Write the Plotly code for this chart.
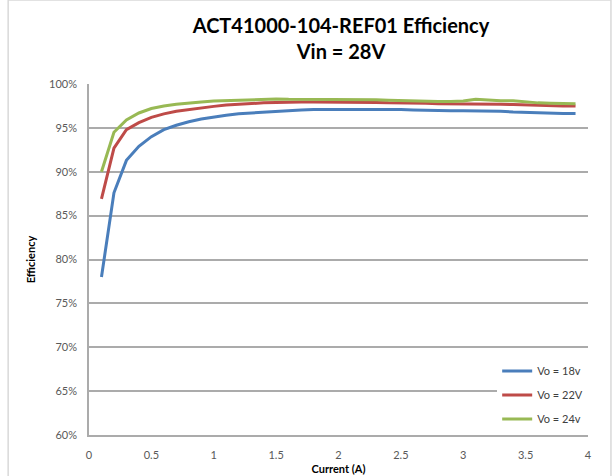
import plotly.graph_objects as go

current = [round(0.1 * i, 1) for i in range(1, 40)]

eff_18v = [78.0, 87.6, 91.3, 92.9, 94.0, 94.8, 95.3, 95.7, 96.0, 96.25,
           96.45, 96.6, 96.7, 96.8, 96.9, 97.0, 97.05, 97.1, 97.1, 97.15,
           97.1, 97.1, 97.1, 97.1, 97.1, 97.05, 97.0, 97.0, 96.95, 96.95,
           96.95, 96.95, 96.9, 96.8, 96.75, 96.7, 96.7, 96.65, 96.65]

eff_22v = [86.9, 92.7, 94.8, 95.6, 96.2, 96.6, 96.9, 97.1, 97.3, 97.45,
           97.6, 97.7, 97.8, 97.85, 97.9, 97.95, 97.95, 97.95, 97.95, 97.95,
           97.95, 97.9, 97.9, 97.85, 97.85, 97.8, 97.8, 97.75, 97.75, 97.75,
           97.7, 97.7, 97.7, 97.65, 97.6, 97.6, 97.55, 97.5, 97.5]

eff_24v = [90.0, 94.5, 95.9, 96.7, 97.2, 97.5, 97.7, 97.85, 97.95, 98.05,
           98.1, 98.15, 98.2, 98.2, 98.3, 98.25, 98.25, 98.25, 98.25, 98.25,
           98.2, 98.2, 98.2, 98.15, 98.1, 98.05, 98.05, 98.0, 98.0, 98.05,
           98.25, 98.15, 98.1, 98.1, 97.95, 97.85, 97.8, 97.75, 97.75]

series_names = ["Vo = 18v", "Vo = 22V", "Vo = 24v"]
series_values = [eff_18v, eff_22v, eff_24v]
series_colors = ["#4A7EBB", "#BE4B48", "#98B954"]

y_ticks = [60, 65, 70, 75, 80, 85, 90, 95, 100]
y_tick_labels = [f"{t}%" for t in y_ticks]
x_ticks = [0, 0.5, 1, 1.5, 2, 2.5, 3, 3.5, 4]

FONT = "Lato, Carlito, Calibri, 'Open Sans', sans-serif"
GRID = "#ABABAB"

fig = go.Figure()
for name, vals, col in zip(series_names, series_values, series_colors):
    fig.add_trace(go.Scatter(
        x=current, y=vals, mode="lines", name=name, legendgroup=name,
        line=dict(color=col, width=3),
    ))

fig.update_layout(
    width=612, height=476,
    margin=dict(l=89, r=24, t=84, b=41),
    paper_bgcolor="white", plot_bgcolor="white",
    font=dict(family=FONT, size=11, color="#404040"),
    title=dict(
        text="ACT41000-104-REF01 Efficiency<br>Vin = 28V",
        x=0.505, xanchor="center", xref="paper",
        y=0.931, yanchor="top", yref="container",
        font=dict(family=FONT, size=20, color="#000000", weight="bold"),
    ),
    xaxis=dict(
        range=[0, 4], tickvals=x_ticks, ticktext=[f"{t:g}" for t in x_ticks],
        showgrid=False, zeroline=False, automargin=False,
        showline=True, linecolor=GRID, linewidth=1.5,
        ticks="", ticklabelstandoff=9,
        tickfont=dict(family=FONT, size=11, color="#595959"),
        title=dict(text="<b>Current (A)</b>", standoff=5,
                   font=dict(family=FONT, size=11, color="#000000")),
    ),
    yaxis=dict(
        range=[60, 100], tickvals=y_ticks, ticktext=y_tick_labels,
        showgrid=True, gridcolor=GRID, gridwidth=1.5, zeroline=False,
        automargin=False,
        showline=True, linecolor=GRID, linewidth=1.5,
        ticks="", ticklabelstandoff=8,
        tickfont=dict(family=FONT, size=11, color="#595959"),
        title=dict(text="<b>Efficiency</b>", standoff=11,
                   font=dict(family=FONT, size=11, color="#000000")),
    ),
    legend=dict(
        x=0.818, xanchor="left", y=0.224, yanchor="top",
        bgcolor="white", borderwidth=0,
        itemwidth=30, tracegroupgap=5, traceorder="grouped",
        font=dict(family=FONT, size=11, color="#404040"),
    ),
    shapes=[dict(
        type="rect", xref="paper", yref="paper",
        x0=-0.162, x1=1.046, y0=-0.2, y1=1.239,
        line=dict(color="#D9D9D9", width=1.5), fillcolor="rgba(0,0,0,0)",
        layer="below",
    )],
)

fig.write_html("out.html")
